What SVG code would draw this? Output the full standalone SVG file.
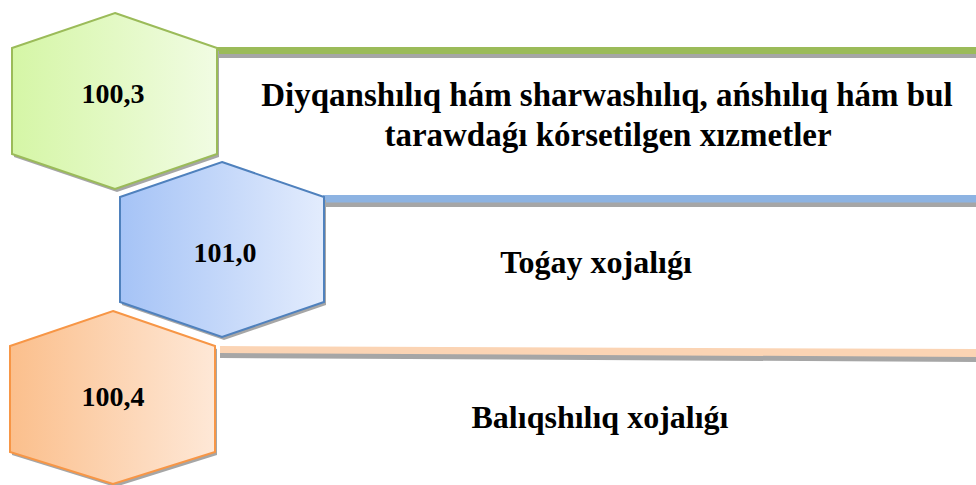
<svg xmlns="http://www.w3.org/2000/svg" width="976" height="485" viewBox="0 0 976 485">
  <defs>
    <linearGradient id="gGreen" x1="0" y1="0" x2="1" y2="0">
      <stop offset="0" stop-color="#d5f6a6"/>
      <stop offset="1" stop-color="#f1fce3"/>
    </linearGradient>
    <linearGradient id="gBlue" x1="0" y1="0" x2="1" y2="0">
      <stop offset="0" stop-color="#a5c3f6"/>
      <stop offset="1" stop-color="#e3ecfd"/>
    </linearGradient>
    <linearGradient id="gOrange" x1="0" y1="0" x2="1" y2="0">
      <stop offset="0" stop-color="#fbbf8c"/>
      <stop offset="1" stop-color="#fee8d7"/>
    </linearGradient>
  </defs>
  <style>
    .shadow { fill: #a6a6a6; }
    text { font-family: 'Times New Roman', 'Liberation Serif', Times, serif; font-weight: bold; fill: #000; text-anchor: middle; }
    .num { font-size: 28px; }
    .lbl { font-size: 32px; }
    .lbl1 { font-size: 33px; }
    .hex { stroke-width: 2; }
  </style>

  <g id="connectors">
    <rect class="shadow" x="217" y="53" width="759" height="5"/>
    <rect x="217" y="47" width="759" height="7" fill="#9bbb59"/>
    <rect class="shadow" x="323" y="202" width="653" height="5"/>
    <rect x="323" y="195" width="653" height="7.5" fill="#8db3e2"/>
    <polygon class="shadow" points="220,352 976,356 976,362 220,358"/>
    <polygon points="220,346 976,349 976,357 220,353" fill="#fbd4b4"/>
  </g>

  <g id="node1">
    <polygon class="shadow" points="117,16 219,51 219,157 117,192 14,157 14,51"/>
    <polygon class="hex" points="115,13 217,48 217,154 115,189 12,154 12,48" fill="url(#gGreen)" stroke="#9bbb59"/>
    <text class="num" x="113" y="103">100,3</text>
  </g>
  <g id="label1">
    <text class="lbl1" x="607" y="106">Diyqanshılıq hám sharwashılıq, ańshılıq hám bul</text>
    <text class="lbl1" x="608" y="146">tarawdaǵı kórsetilgen xızmetler</text>
  </g>

  <g id="node2">
    <polygon class="shadow" points="224,165 326,200 326,305 224,340 122,305 122,200"/>
    <polygon class="hex" points="222,162 324,197 324,302 222,337 120,302 120,197" fill="url(#gBlue)" stroke="#4f81bd"/>
    <text class="num" x="225" y="262">101,0</text>
  </g>
  <g id="label2">
    <text class="lbl" x="596" y="273">Toǵay xojalıǵı</text>
  </g>

  <g id="node3">
    <polygon class="shadow" points="115,314 217,349 217,455 115,487 12,455 12,349"/>
    <polygon class="hex" points="113,311 215,346 215,452 113,484 10,452 10,346" fill="url(#gOrange)" stroke="#f79646"/>
    <text class="num" x="113" y="406">100,4</text>
  </g>
  <g id="label3">
    <text class="lbl" x="600" y="428">Balıqshılıq xojalıǵı</text>
  </g>
</svg>
